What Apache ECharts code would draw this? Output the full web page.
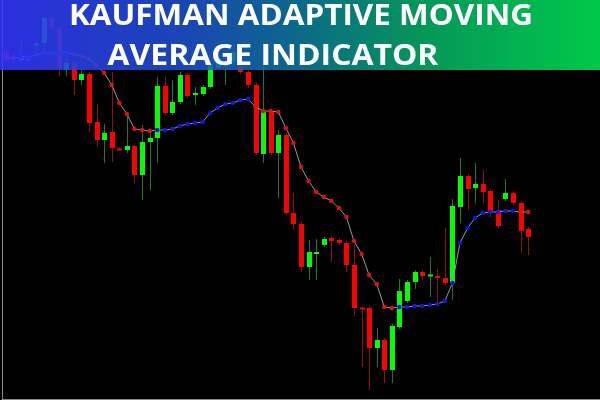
<!DOCTYPE html>
<html>
<head>
<meta charset="utf-8">
<script src="https://cdn.jsdelivr.net/npm/echarts@6/dist/echarts.min.js"></script>
<style>html,body{margin:0;padding:0;background:#000;}#c{width:600px;height:400px;}</style>
</head>
<body>
<div id="c"></div>
<script>
// Candle values (price units)
var opens  = [348,342,340,344,355,357,382,372,330,337,320,326,278,260,268,251,250,254,225,258,
              262,314,287,298,325,305,306,313,332,334,338,345,328,315,246,289,247,265,187,176,
              133,146,155,162,160,157,135,92,92,52,60,30,73,99,118,128,124,124,122,117,
              193,224,212,216,209,190,201,207,197,171];
var closes = [340,343,344,339,356,382,373,332,337,320,326,277,260,267,252,250,254,225,258,262,
              314,287,298,325,304,307,313,336,342,335,348,328,315,247,288,247,265,187,176,133,
              148,148,161,159,157,135,92,91,52,60,30,74,109,118,128,124,125,122,117,194,
              224,211,216,208,189,174,207,197,169,163];
var lows   = [337,337,338,337,347,348,370,324,324,305,315,268,253,237,238,249,247,217,200,210,
              237,285,285,296,302,295,304,311,330,315,334,326,312,245,237,245,202,185,170,128,
              120,120,153,138,155,128,85,33,10,33,17,17,71,97,111,120,103,97,115,100,
              177,190,197,197,183,172,199,195,147,145];
var highs  = [352,346,360,346,360,384,384,374,345,340,330,328,296,276,328,253,285,255,275,270,
              323,323,320,328,327,313,315,340,348,345,355,350,330,317,338,291,270,267,207,178,
              160,161,163,164,162,159,155,93,94,72,62,76,121,120,130,130,143,131,172,201,
              242,226,237,230,211,200,221,209,199,173];
// Kaufman adaptive moving average values
var kama   = [342,342,343,343,345,347,347,347,347,346,344,341,335,327,315,297,286,271,270,269,
              270,270,271,274,276,277,278,287,292,296,297,300,301,293,289,289,288,272,257,233,
              219,208,203,199,192,183,159,146,125,116,93,92,93,93,94,94,95,96,99,117,
              157,172,182,187,188,188,189,189,188,188];
var slotCount = 79;
var categories = [];
for (var i = 0; i < slotCount; i++) categories.push(String(i + 1));
var titleLine1 = 'KAUFMAN ADAPTIVE MOVING';
var titleLine2 = 'AVERAGE INDICATOR';

var candleData = opens.map(function (o, i) { return [i, o, closes[i], lows[i], highs[i]]; });

// direction colours of the KAMA dots
var kamaColors = [];
var lastDir = -1;
for (var k = 0; k < kama.length; k++) {
  if (k > 0) {
    if (kama[k] > kama[k - 1]) lastDir = 1;
    else if (kama[k] < kama[k - 1]) lastDir = -1;
  }
  kamaColors.push(lastDir > 0 ? '#1414e6' : '#e01010');
}

function renderCandle(params, api) {
  var x = api.value(0);
  var o = api.value(1), c = api.value(2), l = api.value(3), h = api.value(4);
  var pO = api.coord([x, o]), pC = api.coord([x, c]);
  var pL = api.coord([x, l]), pH = api.coord([x, h]);
  var up = c >= o;
  var w = 5;
  var cx = Math.round(pO[0]) + 0.5;
  var top = Math.min(pO[1], pC[1]), bot = Math.max(pO[1], pC[1]);
  if (bot - top < 2) { var m = (top + bot) / 2; top = m - 1; bot = m + 1; }
  return {
    type: 'group',
    children: [
      { type: 'line', shape: { x1: cx, y1: pH[1], x2: cx, y2: pL[1] },
        style: { stroke: up ? '#1e7a1e' : '#8c1414', lineWidth: 1 } },
      { type: 'rect', shape: { x: cx - w / 2, y: top, width: w, height: bot - top },
        style: { fill: up ? '#00ff00' : '#ff0000' } }
    ]
  };
}

var chart = echarts.init(document.getElementById('c'), null, { renderer: 'canvas' });
chart.setOption({
  backgroundColor: '#000000',
  animation: false,
  grid: { left: 2, right: 0, top: 0, bottom: 1 },
  xAxis: {
    type: 'category', data: categories, boundaryGap: true,
    axisLine: { show: true, lineStyle: { color: '#8a8a8a', width: 1 } },
    axisTick: { show: false }, axisLabel: { show: false }, splitLine: { show: false }
  },
  yAxis: {
    type: 'value', min: 1, max: 400,
    axisLine: { show: true, lineStyle: { color: '#8a8a8a', width: 1 } },
    axisTick: { show: false }, axisLabel: { show: false }, splitLine: { show: false }
  },
  series: [
    {
      type: 'custom', renderItem: renderCandle, data: candleData,
      encode: { x: 0, y: [1, 2, 3, 4] }, z: 2
    },
    {
      type: 'line', data: kama, z: 3,
      symbol: 'circle', symbolSize: 4.5, showSymbol: true,
      lineStyle: { color: '#9a9a9a', width: 1 },
      itemStyle: { color: function (p) { return kamaColors[p.dataIndex]; }, borderWidth: 0 }
    }
  ],
  graphic: [
    {
      type: 'rect', z: 100, left: 0, top: 0,
      shape: { x: 0, y: 0, width: 600, height: 70 },
      style: {
        opacity: 0.88,
        fill: new echarts.graphic.LinearGradient(0, 0, 1, 0, [
          { offset: 0, color: '#3234ff' },
          { offset: 0.3, color: '#1e4ece' },
          { offset: 0.5, color: '#0c789b' },
          { offset: 0.7, color: '#06aa66' },
          { offset: 1, color: '#00e454' }
        ])
      }
    },
    {
      type: 'text', z: 101, x: 301, y: 17, scaleX: 1.085,
      style: { text: titleLine1, fill: '#ffffff', font: '700 29px "Open Sans"', align: 'center', verticalAlign: 'middle' }
    },
    {
      type: 'text', z: 101, x: 273, y: 57, scaleX: 1.1,
      style: { text: titleLine2, fill: '#ffffff', font: '700 29px "Open Sans"', align: 'center', verticalAlign: 'middle' }
    }
  ]
});
</script>
</body>
</html>
